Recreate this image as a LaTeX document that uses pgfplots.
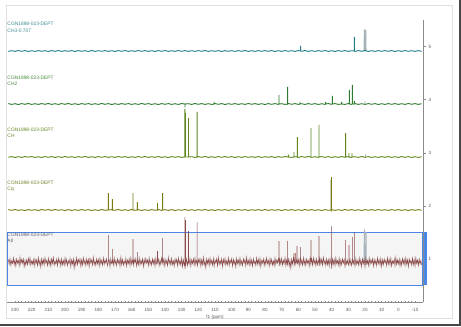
\documentclass[border=0pt]{standalone}
\usepackage{pgfplots}
\usepackage{pgfplotstable}
\pgfplotsset{compat=1.18}
\usepackage{fontspec}
\setmainfont{Liberation Sans}
\definecolor{cFive}{RGB}{30,125,132}
\definecolor{cFour}{RGB}{45,122,45}
\definecolor{cThree}{RGB}{95,135,30}
\definecolor{cTwo}{RGB}{118,124,18}
\definecolor{cOne}{RGB}{140,76,76}
\definecolor{lFive}{RGB}{60,140,148}
\definecolor{lFour}{RGB}{70,138,60}
\definecolor{lThree}{RGB}{100,138,40}
\definecolor{lTwo}{RGB}{110,128,40}
\definecolor{lOne}{RGB}{95,95,115}
\definecolor{boxblue}{RGB}{74,134,232}
\definecolor{greypk}{RGB}{165,178,185}
\newcommand{\lab}{\fontsize{4.9}{6.2}\selectfont}

% All (offset 40)
\pgfplotstableread[row sep=\\]{x y\\
234 2.5\\233.5 -2\\233 3.5\\232.5 -3\\232 1\\231.5 -1.5\\231 4\\230.5 -2.5\\230 2\\229.5 -4\\
229 3\\228.5 -1\\228 1.5\\227.5 -3.5\\227 4.5\\226.5 -2\\226 2.5\\225.5 -1\\225 3\\224.5 -4.5\\
224 1.5\\223.5 -3\\223 2\\222.5 -2.5\\222 3.5\\221.5 -1.5\\221 4\\220.5 -3\\220 1\\219.5 -2\\
219 2.5\\218.5 -4\\218 3\\217.5 -1.5\\217 2\\216.5 -3.5\\216 4\\215.5 -2.5\\215 1.5\\214.5 -5\\
214 3\\213.5 -2\\213 2.5\\212.5 -3\\212 4\\211.5 -1\\211 1.5\\210.5 -3.5\\210 3.5\\209.5 -2.5\\
209 2\\208.5 -4\\208 3\\207.5 -1.5\\207 4.5\\206.5 -3\\206 1\\205.5 -2\\205 2.5\\204.5 -3.5\\
204 3.5\\203.5 -1\\203 2\\202.5 -4\\202 3\\201.5 -2.5\\201 1.5\\200.5 -3\\200 4\\199.5 -2\\
199 2.5\\198.5 -3.5\\198 1\\197.5 -1.5\\197 3.5\\196.5 -4.5\\196 2\\195.5 -2\\195 3\\194.5 -6\\
194 1.5\\193.5 -3\\193 4\\192.5 -2.5\\192 2.5\\191.5 -1\\191 3\\190.5 -4\\190 2\\189.5 -3\\
189 4\\188.5 -1.5\\188 1.5\\187.5 -3.5\\187 3\\186.5 -2\\186 2.5\\185.5 -4.5\\185 3.5\\184.5 -1\\
184 2\\183.5 -3\\183 4.5\\182.5 -2.5\\182 1\\181.5 -3.5\\181 3\\180.5 -1.5\\180 2.5\\179.5 -4\\
179 3.5\\178.5 -2\\178 1.5\\177.5 -3\\177 4\\176.5 -2.5\\176 2\\175.5 -1\\175 3\\174.5 -3.5\\
174 0\\174 27\\174 0\\173.5 2\\173 -4.5\\172.5 3\\172 -1.5\\171.6 0\\171.6 13\\171.6 0\\171.5 2.5\\171 -3\\170.5 4\\170 -2\\169.5 1.5\\169 -3.5\\168.5 3\\168 -1\\167.5 2\\167 -4\\
166.5 4.5\\166 -2.5\\165.5 2.5\\165 -3\\164.5 1\\164 -2\\163.5 3.5\\163 -4\\162.5 2\\162 -1.5\\161.5 3\\161 -3.5\\160.5 4\\160 -2\\159.5 1.5\\159.2 0\\159.2 23\\159.2 0\\159 -3\\158.5 2.5\\158 -1\\157.5 3.5\\157 -4\\
156.6 0\\156.6 10\\156.6 0\\156.5 2\\156 -2.5\\155.5 4\\155 -3\\154.5 1.5\\154 -1.5\\153.5 3\\153 -4.5\\152.5 2.5\\152 -2\\151.5 3.5\\151 -1\\150.5 2\\150 -3.5\\149.5 4\\149 -2.5\\148.5 1\\148 -3\\
147.5 3\\147 -1.5\\146.5 2.5\\146 -4\\145.5 3.5\\145 -2\\144.5 0\\144.5 11\\144.5 0\\144 3\\143.5 -3.5\\143 1.5\\142.5 -2.5\\142 4\\141.5 -1\\141.4 0\\141.4 24\\141.4 0\\141 2.5\\140.5 -4\\140 3\\
139.5 -2\\139 1.5\\138.5 -3.5\\138 4.5\\137.5 -1.5\\137 2\\136.5 -3\\136 3.5\\135.5 -2.5\\135 1\\134.5 -4\\134 3\\133.5 -1\\133 2.5\\132.5 -3.5\\132 4\\131.5 -2\\131 1.5\\130.5 -3\\130 3.5\\
129.5 -4.5\\129 2\\128.5 -2.5\\128.1 0\\128.1 45\\128.1 0\\128 -6.5\\127.8 2\\127.6 0\\127.6 42\\127.6 0\\127.5 -2\\127 3\\126.5 -3.5\\126 1.5\\125.9 0\\125.9 31\\125.9 0\\125.5 -2\\125 3.5\\124.5 -4\\
124 2\\123.5 -1.5\\123 3\\122.5 -3\\122 4\\121.5 -2.5\\121 1.5\\120.7 0\\120.7 40\\120.7 0\\120.5 -3.5\\120 2.5\\119.5 -1\\119 3.5\\118.5 -4\\118 2\\117.5 -2.5\\117 4.5\\116.5 -3\\116 1\\
115.5 -5.5\\115 3\\114.5 -1.5\\114 2.5\\113.5 -3.5\\113 4\\112.5 -2\\112 1.5\\111.5 -3\\111 3.5\\110.5 -4\\110 2\\109.5 -1\\109 3\\108.5 -3.5\\108 4.5\\107.5 -2.5\\107 1.5\\106.5 -2\\106 3\\
105.5 -4.5\\105 2.5\\104.5 -1.5\\104 3.5\\103.5 -3\\103 1\\102.5 -2.5\\102 4\\101.5 -3.5\\101 2\\100.5 -1\\100 3\\99.5 -4\\99 2.5\\98.5 -2\\98 1.5\\97.5 -5\\97 3.5\\96.5 -1.5\\96 2\\
95.5 -3\\95 4\\94.5 -2.5\\94 1\\93.5 -3.5\\93 3\\92.5 -1\\92 2.5\\91.5 -4\\91 4.5\\90.5 -2\\90 1.5\\89.5 -3\\89 3.5\\88.5 -2.5\\88 2\\87.5 -4\\87 3\\86.5 -1.5\\86 1\\
85.5 -3.5\\85 4\\84.5 -2\\84 2.5\\83.5 -3\\83 3.5\\82.5 -4.5\\82 1.5\\81.5 -1\\81 3\\80.5 -3.5\\80 2\\79.5 -2.5\\79 4\\78.5 -1.5\\78 1.5\\77.5 -4\\77 3.5\\76.5 -2\\76 2.5\\
75.5 -3\\75 1\\74.5 -3.5\\74 4\\73.5 -2.5\\73 2\\72.5 -1\\72 3\\71.6 0\\71.6 21\\71.6 0\\71.5 -4\\71 2.5\\70.5 -2\\70 3.5\\69.5 -3\\69 1.5\\68.5 -1.5\\68 4\\67.5 -3.5\\67 2\\66.5 -2.5\\
66.4 0\\66.4 21\\66.4 0\\66 3\\65.5 -4\\65 1.5\\64.5 -6\\64 2.5\\63.5 -2\\63 3.5\\62.6 0\\62.6 9\\62.6 0\\62.5 -3\\62 2\\61.8 0\\61.8 9\\61.8 0\\61.5 -2.5\\61 3\\60.8 0\\60.8 16\\60.8 0\\
60.5 -1.5\\60 2.5\\59.5 -4\\59 3\\58.6 0\\58.6 15\\58.6 0\\58.5 -2\\58 1.5\\57.5 -3\\57 4\\56.5 -2.5\\56 2\\55.5 -3.5\\55 3\\54.5 -1\\54 1.5\\53.5 -4\\53 3.5\\52.5 -2\\52.4 0\\52.4 22\\52.4 0\\
52 2.5\\51.5 -3\\51 4\\50.5 -1.5\\50 2\\49.5 -3.5\\49 3\\48.5 -2.5\\48 1\\47.6 0\\47.6 26\\47.6 0\\47.5 -4\\47 3.5\\46.5 -2\\46 2.5\\45.5 -3\\45 4.5\\44.5 -1.5\\44 1.5\\43.5 -3.5\\43 3\\
42.5 -2.5\\42 2\\41.5 -4\\41 3.5\\40.5 -1\\40.2 0\\40.2 36\\40.2 0\\40 -6.5\\39.5 3\\39 -2\\38.5 2.5\\38 -3.5\\37.5 4\\37 -1.5\\36.5 1.5\\36 -3\\35.5 3.5\\35 -4\\34.5 2\\34 -2.5\\33.5 3\\33 -1\\
32.5 2.5\\32 -4.5\\31.6 0\\31.6 22\\31.6 0\\31.5 3\\31 -2\\30.5 1.5\\30 -3\\29.6 0\\29.6 17\\29.6 0\\29.5 4\\29 -2.5\\28.5 2\\28 -3.5\\27.6 0\\27.6 25\\27.6 0\\27.5 3\\27 -1.5\\26.5 2.5\\
26.4 0\\26.4 30\\26.4 0\\26 -4\\25.5 3.5\\25 -2\\24.5 1\\24 -3\\23.5 4\\23 -2.5\\22.5 2\\22 -4.5\\21.5 3\\21 -1.5\\20.5 2.5\\20 -5\\19.5 3.5\\19 -2\\18.5 1.5\\18 -3.5\\17.5 4\\17 -2.5\\
16.5 2\\16 -1\\15.5 3\\15 -4\\14.5 2.5\\14 -2\\13.5 1.5\\13 -3.5\\12.5 4\\12 -1.5\\11.5 2\\11 -3\\10.5 3.5\\10 -4.5\\9.5 2\\9 -2.5\\8.5 3\\8 -1\\7.5 1.5\\7 -3.5\\
6.5 4\\6 -2\\5.5 2.5\\5 -3\\4.5 3.5\\4 -4\\3.5 1\\3 -1.5\\2.5 3\\2 -3.5\\1.5 4.5\\1 -2.5\\0.5 2\\0 -2\\-0.5 3\\-1 -4\\-1.5 1.5\\-2 -3\\-2.5 3.5\\-3 -1.5\\
-3.5 2.5\\-4 -3.5\\-4.5 4\\-5 -2\\-5.5 2\\-6 -4.5\\-6.5 3\\-7 -1\\-7.5 1.5\\-8 -3\\-8.5 3.5\\-9 -2.5\\-9.5 2.5\\-10 -4\\-10.5 4\\-11 -1.5\\-11.5 2\\-12 -3.5\\-12.5 3\\-13 -2\\-13.5 1.5\\-14 -3\\
}\tAll

% Cq (offset 92)
\pgfplotstableread[row sep=\\]{x y\\
234 0.4\\232 -0.3\\230 0.5\\228 -0.4\\226 0.2\\224 -0.5\\222 0.4\\220 -0.3\\218 0.3\\216 -0.5\\214 0.5\\212 -0.2\\210 0.4\\208 -0.4\\206 0.5\\204 -0.3\\202 0.3\\200 -0.5\\198 0.4\\196 -0.4\\
194 0.3\\192 -0.4\\190 0.5\\188 -0.3\\186 0.4\\184 -0.5\\182 0.2\\180 -0.4\\178 0.5\\176 -0.3\\174 0\\174 17\\174 0\\172 0.4\\171.6 0\\171.6 11\\171.6 0\\170 -0.3\\168 0.5\\166 -0.4\\164 0.3\\162 -0.4\\160 0.5\\
159.2 0\\159.2 17\\159.2 0\\158 -0.3\\156.6 0\\156.6 8\\156.6 0\\156 0.4\\154 -0.5\\152 0.3\\150 -0.4\\148 0.4\\146 -0.3\\144.5 0\\144.5 7\\144.5 0\\144 0.5\\142 -0.4\\141.4 0\\141.4 17\\141.4 0\\140 0.3\\
138 -0.4\\136 0.4\\134 -0.5\\132 0.3\\130 -0.3\\128 0.5\\126 -0.4\\124 0.3\\122 -0.4\\120 0.4\\118 -0.3\\116 0.5\\114 -0.4\\112 0.3\\110 -0.5\\108 0.4\\106 -0.3\\104 0.4\\102 -0.4\\100 0.3\\
98 -0.4\\96 0.5\\94 -0.3\\92 0.4\\90 -0.5\\88 0.3\\86 -0.3\\84 0.4\\82 -0.4\\80 0.5\\78 -0.4\\76 0.3\\74 -0.3\\72 0.4\\70 -0.5\\68 0.4\\66 -0.3\\64 0.4\\62 -0.4\\60 0.3\\
58 -0.4\\56 0.5\\54 -0.3\\52 0.4\\50 -0.4\\48 0.3\\46 -0.5\\44 0.4\\42 -0.3\\40.4 0\\40.4 30\\40.4 0\\40.1 0\\40.1 33\\40.1 0\\40 0.4\\38 -0.4\\36 0.3\\34 -0.4\\32 0.5\\30 -0.3\\28 0.4\\26 -0.4\\24 0.3\\22 -0.5\\
20 0.4\\18 -0.3\\16 0.4\\14 -0.4\\12 0.5\\10 -0.3\\8 0.3\\6 -0.4\\4 0.4\\2 -0.3\\0 0.5\\-2 -0.4\\-4 0.3\\-6 -0.5\\-8 0.4\\-10 -0.3\\-12 0.4\\-14 -0.3\\
}\tCq

% CH (offset 145)
\pgfplotstableread[row sep=\\]{x y\\
234 -0.3\\232 0.4\\230 -0.5\\228 0.3\\226 -0.4\\224 0.5\\222 -0.2\\220 0.4\\218 -0.4\\216 0.3\\214 -0.5\\212 0.4\\210 -0.3\\208 0.4\\206 -0.5\\204 0.3\\202 -0.4\\200 0.5\\198 -0.3\\196 0.3\\
194 -0.4\\192 0.4\\190 -0.3\\188 0.5\\186 -0.4\\184 0.3\\182 -0.5\\180 0.4\\178 -0.3\\176 0.4\\174 -0.4\\172 0.3\\170 -0.4\\168 0.5\\166 -0.3\\164 0.4\\162 -0.5\\160 0.3\\158 -0.4\\156 0.4\\
154 -0.3\\152 0.5\\150 -0.4\\148 0.3\\146 -0.3\\144 0.4\\142 -0.4\\140 0.3\\138 -0.5\\136 0.4\\134 -0.3\\132 0.4\\130 -0.4\\128.1 0\\128.1 48\\128.1 0\\127.7 0\\127.7 44\\127.7 0\\
125.9 0\\125.9 39\\125.9 0\\124 0.3\\122 -0.4\\120.7 0\\120.7 45\\120.7 0\\120 0.4\\118 -0.3\\116 0.5\\114 -0.4\\112 0.3\\110 -0.4\\108 0.4\\106 -0.3\\104 0.5\\102 -0.3\\100 0.4\\
98 -0.5\\96 0.3\\94 -0.4\\92 0.4\\90 -0.3\\88 0.3\\86 -0.4\\84 0.5\\82 -0.4\\80 0.3\\78 -0.3\\76 0.4\\74 -0.5\\72 0.4\\70 -0.3\\68 0.4\\66 0\\66 2.5\\66 0\\64 -0.4\\62.6 0\\62.6 5\\62.6 0\\62 0.3\\
60.6 0\\60.6 20\\60.6 0\\60 -0.4\\58 0.4\\56 -0.3\\54 0.5\\52.4 0\\52.4 29\\52.4 0\\52 -0.4\\50 0.3\\48 -0.4\\47.6 0\\47.6 32\\47.6 0\\46 0.4\\44 -0.3\\42 0.4\\40 -0.5\\38 0.3\\36 -0.4\\34 0.5\\32 -0.3\\
31.6 0\\31.6 24\\31.6 0\\30 0.4\\29.6 0\\29.6 4\\29.6 0\\28 -0.4\\27.8 0\\27.8 4\\27.8 0\\26 0.3\\24 -0.4\\22 0.5\\20 -0.3\\18 0.4\\16 -0.4\\14 0.3\\12 -0.4\\10 0.4\\8 -0.3\\6 0.5\\4 -0.4\\2 0.3\\0 -0.4\\
-2 0.4\\-4 -0.3\\-6 0.4\\-8 -0.5\\-10 0.3\\-12 -0.4\\-14 0.3\\
}\tCH

% CH2 (offset 198)
\pgfplotstableread[row sep=\\]{x y\\
234 0.4\\232 -0.4\\230 0.3\\228 -0.5\\226 0.4\\224 -0.3\\222 0.5\\220 -0.4\\218 0.3\\216 -0.4\\214 0.4\\212 -0.3\\210 0.5\\208 -0.4\\206 0.3\\204 -0.4\\202 0.4\\200 -0.3\\198 0.5\\196 -0.4\\
194 0.3\\192 -0.5\\190 0.4\\188 -0.3\\186 0.4\\184 -0.4\\182 0.3\\180 -0.4\\178 0.5\\176 -0.3\\174 0.4\\172 -0.5\\170 0.3\\168 -0.4\\166 0.4\\164 -0.3\\162 0.4\\160 -0.4\\158 0.3\\156 -0.4\\
154 0.5\\152 -0.3\\150 0.4\\148 -0.4\\146 0.3\\144 -0.5\\142 0.4\\140 -0.3\\138 0.4\\136 -0.4\\134 0.3\\132 -0.4\\130 0.4\\128 0\\128 -3.5\\128 0\\126 0.3\\124 -0.4\\122 0.5\\120 -0.3\\118 0.4\\
116 -0.4\\114 0.3\\112 -0.4\\110.6 0\\110.6 2\\110.6 0\\110 0.4\\108 -0.3\\106 0.4\\104 -0.5\\102 0.3\\100 -0.3\\98 0.4\\96 -0.4\\94 0.3\\92 -0.4\\90 0.5\\88 -0.3\\86 0.4\\84 -0.4\\82 0.3\\80 -0.5\\
78 0.4\\76 -0.3\\74 0.4\\72 -0.4\\71.6 0\\71.6 9\\71.6 0\\70 0.3\\68 -0.4\\66.4 0\\66.4 17\\66.4 0\\66 0.5\\64 -0.3\\62 0.4\\60 -0.4\\59 0\\59 2\\59 0\\58 0.3\\56 -0.4\\54 0.4\\52 -0.3\\50 0.4\\
48 -0.5\\46 0.3\\44 -0.4\\43.6 0\\43.6 2\\43.6 0\\42 0.4\\40 -0.3\\39.6 0\\39.6 8\\39.6 0\\38 0.4\\36 -0.4\\34 0\\34 2\\34 0\\32 -0.4\\30 0.5\\29.4 0\\29.4 14\\29.4 0\\28 -0.3\\
27.6 0\\27.6 19\\27.6 0\\26.4 0\\26.4 3\\26.4 0\\26 0.4\\24 -0.4\\22 0.3\\20 -0.4\\18 0.4\\16 -0.3\\14 0.4\\12 -0.5\\10 0.3\\8 -0.4\\6 0.4\\4 -0.3\\2 0.4\\0 -0.4\\
-2 0.3\\-4 -0.4\\-6 0.5\\-8 -0.3\\-10 0.4\\-12 -0.4\\-14 0.3\\
}\tCHtwo

% CH3 (offset 251)
\pgfplotstableread[row sep=\\]{x y\\
234 -0.4\\232 0.3\\230 -0.4\\228 0.5\\226 -0.3\\224 0.4\\222 -0.5\\220 0.3\\218 -0.4\\216 0.4\\214 -0.3\\212 0.3\\210 -0.4\\208 0.4\\206 -0.3\\204 0.5\\202 -0.4\\200 0.3\\198 -0.3\\196 0.4\\
194 -0.5\\192 0.4\\190 -0.3\\188 0.3\\186 -0.4\\184 0.5\\182 -0.4\\180 0.3\\178 -0.3\\176 0.4\\174 -0.4\\172 0.3\\170 -0.5\\168 0.4\\166 -0.3\\164 0.4\\162 -0.4\\160 0.3\\158 -0.4\\156 0.5\\
154 -0.3\\152 0.4\\150 -0.4\\148 0.3\\146 -0.5\\144 0.4\\142 -0.3\\140 0.4\\138 -0.4\\136 0.3\\134 -0.4\\132 0.5\\130 -0.3\\128 0.4\\126 -0.4\\124 0.3\\122 -0.4\\120 0.4\\118 -0.3\\116 0.5\\
114 -0.4\\112 0.3\\110 -0.3\\108 0.4\\106 -0.5\\104 0.4\\102 -0.3\\100 0.3\\98 -0.4\\96 0.4\\94 -0.3\\92 0.5\\90 -0.4\\88 0.3\\86 -0.4\\84 0.4\\82 -0.3\\80 0.4\\78 -0.3\\76 0.4\\
74 -0.5\\72 0.3\\70 -0.4\\68 0.4\\66 -0.3\\64 0.3\\62 -0.4\\60 0.4\\58.6 0\\58.6 5\\58.6 0\\58 -0.3\\56 0.5\\54 -0.4\\52 0.3\\50 -0.4\\48 0.4\\46 -0.3\\44 0.4\\42 -0.4\\40 0.3\\38 -0.5\\
36 0.4\\34 -0.3\\32 0.4\\30 -0.4\\28 0.3\\26.4 0\\26.4 14\\26.4 0\\26 -0.4\\24 0.4\\22 -0.3\\20 0.5\\18 -0.4\\16 0.3\\14 -0.4\\12 0.4\\10 -0.3\\8 0.4\\6 -0.3\\4 0.4\\2 -0.5\\0 0.3\\
-2 -0.4\\-4 0.4\\-6 -0.3\\-8 0.3\\-10 -0.4\\-12 0.4\\-14 -0.3\\
}\tCHthree

\begin{document}
\begin{tikzpicture}[x=1bp,y=1bp]
\useasboundingbox (0,0) rectangle (461,326);
\fill[white] (0,0) rectangle (461,326);
\draw[black!12, line width=0.8bp] (6.5,8) rectangle (452,321);
\fill[black!72] (0,0) rectangle (461,2.5);
\fill[black!72] (458.5,0) rectangle (461,326);
\begin{axis}[
  at={(7bp,24bp)}, anchor=south west,
  scale only axis, width=416bp, height=282bp,
  xmin=-14.8, xmax=234.8, x dir=reverse,
  ymin=0, ymax=282,
  axis x line*=bottom, axis y line*=right,
  axis line style={black!45, line width=0.5bp},
  xtick={-10,0,...,230}, minor x tick num=4,
  ytick={43,96.1,149.2,202.3,255.4}, yticklabels={1,2,3,4,5},
  tick style={black!45, line width=0.4bp},
  major tick length=2.5bp, minor tick length=1.5bp,
  xtick align=center, ytick align=outside,
  clip=false,
  tick label style={font=\fontsize{4.6}{5}\selectfont, text=black!65},
  xticklabel style={yshift=-1.5bp},
  yticklabel style={xshift=-0.5bp},
  /pgf/number format/assume math mode=true,
  /pgf/number format/1000 sep={},
]
% All box
\fill[black!4] (axis cs:234.8,17) rectangle (axis cs:-14.2,70);
\draw[boxblue, line width=0.6bp] (axis cs:234.6,17) rectangle (axis cs:-14.2,70);
% grey overlapping peaks
\addplot[greypk, line width=0.7bp] coordinates {(20.6,251)(20.5,273)(20.4,251)(20.1,251)(20.0,272)(19.9,251)(19.5,251)(19.4,272)(19.3,251)};
\addplot[greypk, line width=0.7bp] coordinates {(20.6,40)(20.5,73)(20.4,40)(20.1,40)(20.0,71)(19.9,40)(19.4,40)(19.3,70)(19.2,40)};
\addplot[greypk, line width=0.7bp] coordinates {(19.7,145)(19.6,148)(19.5,145)};
\addplot[greypk, line width=0.7bp] coordinates {(20.1,198)(20.0,201)(19.9,198)};
% traces
\addplot[cOne, line width=0.55bp] table[x=x, y expr=\thisrow{y}+40] {\tAll};
\addplot[cTwo, line width=0.9bp] table[x=x, y expr=\thisrow{y}+92] {\tCq};
\addplot[cThree, line width=0.9bp] table[x=x, y expr=\thisrow{y}+145] {\tCH};
\addplot[cFour, line width=0.9bp] table[x=x, y expr=\thisrow{y}+198] {\tCHtwo};
\addplot[cFive, line width=0.9bp] table[x=x, y expr=\thisrow{y}+251] {\tCHthree};
\end{axis}
% blue selection bar
\fill[boxblue] (423.5,41) rectangle (426.5,94);
% labels
\node[anchor=west, inner sep=0, text=lFive, font=\lab] at (7.3,326-24.3) {CGN1898-023-DEPT};
\node[anchor=west, inner sep=0, text=lFive, font=\lab] at (7.3,326-30.5) {CH3-0.707};
\node[anchor=west, inner sep=0, text=lFour, font=\lab] at (7.3,326-77.5) {CGN1898-023-DEPT};
\node[anchor=west, inner sep=0, text=lFour, font=\lab] at (7.3,326-83.7) {CH2};
\node[anchor=west, inner sep=0, text=lThree, font=\lab] at (7.3,326-130) {CGN1898-023-DEPT};
\node[anchor=west, inner sep=0, text=lThree, font=\lab] at (7.3,326-136.2) {CH};
\node[anchor=west, inner sep=0, text=lTwo, font=\lab] at (7.3,326-182.7) {CGN1898-023-DEPT};
\node[anchor=west, inner sep=0, text=lTwo, font=\lab] at (7.3,326-188.9) {Cq};
\node[anchor=west, inner sep=0, text=lOne, font=\lab] at (7.3,326-235) {CGN1898-023-DEPT};
\node[anchor=west, inner sep=0, text=lOne, font=\lab] at (7.3,326-241.2) {All};
\node[text=black!65, font=\fontsize{4.6}{5}\selectfont] at (215,326-317) {f1 (ppm)};
\end{tikzpicture}
\end{document}
